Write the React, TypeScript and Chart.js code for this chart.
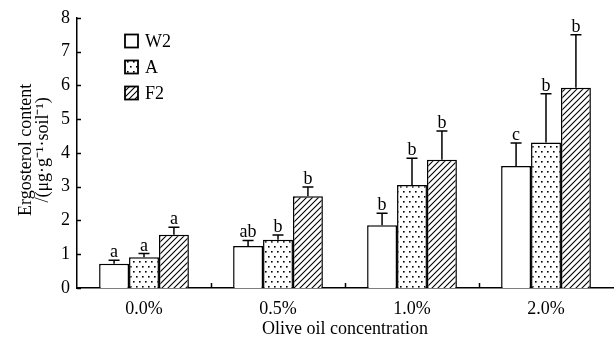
import React, { useEffect, useRef } from "react";
import { Chart, registerables } from "chart.js";

Chart.register(...registerables);

const categories = ["0.0%", "0.5%", "1.0%", "2.0%"];
const seriesNames = ["W2", "A", "F2"];
const W2 = [0.72, 1.24, 1.86, 3.61];
const W2err = [0.1, 0.17, 0.35, 0.68];
const A = [0.91, 1.43, 3.05, 4.31];
const Aerr = [0.11, 0.14, 0.79, 1.44];
const F2 = [1.58, 2.72, 3.8, 5.93];
const F2err = [0.22, 0.27, 0.85, 1.57];
const W2letters = ["a", "ab", "b", "c"];
const Aletters = ["a", "b", "b", "b"];
const F2letters = ["a", "b", "b", "b"];
const yTitle = ["Ergosterol content", "/(\u03bcg\u00b7g\u207b\u00b9\u00b7soil\u207b\u00b9)"];
const xTitle = "Olive oil concentration";

const FONT = "'Liberation Serif', 'Times New Roman', serif";

function dotPattern(ctx: CanvasRenderingContext2D) {
  const c = document.createElement("canvas");
  c.width = 6;
  c.height = 10;
  const g = c.getContext("2d")!;
  g.fillStyle = "#fff";
  g.fillRect(0, 0, 6, 10);
  g.fillStyle = "#000";
  g.fillRect(1, 1, 1.6, 1.6);
  g.fillRect(4, 6, 1.6, 1.6);
  return ctx.createPattern(c, "repeat")!;
}

function hatchPattern(ctx: CanvasRenderingContext2D) {
  const s = 6;
  const c = document.createElement("canvas");
  c.width = s;
  c.height = s;
  const g = c.getContext("2d")!;
  g.fillStyle = "#fff";
  g.fillRect(0, 0, s, s);
  g.strokeStyle = "#000";
  g.lineWidth = 1.1;
  g.beginPath();
  g.moveTo(-1, s + 1);
  g.lineTo(s + 1, -1);
  g.moveTo(-1, 1);
  g.lineTo(1, -1);
  g.moveTo(s - 1, s + 1);
  g.lineTo(s + 1, s - 1);
  g.stroke();
  return ctx.createPattern(c, "repeat")!;
}

export default function App() {
  const ref = useRef<HTMLCanvasElement>(null);
  useEffect(() => {
    const canvas = ref.current!;
    const ctx = canvas.getContext("2d")!;
    const fills: (string | CanvasPattern)[] = ["#fff", dotPattern(ctx), hatchPattern(ctx)];
    const errs = [W2err, Aerr, F2err];
    const letters = [W2letters, Aletters, F2letters];

    const extras = {
      id: "extras",
      afterDatasetsDraw(chart: any) {
        const c = chart.ctx as CanvasRenderingContext2D;
        const area = chart.chartArea;
        const ys = chart.scales.y;
        c.save();
        c.strokeStyle = "#000";
        c.fillStyle = "#000";
        c.lineWidth = 1.5;
        // inner ticks on y
        for (let v = 0; v <= 8; v++) {
          const y = Math.round(ys.getPixelForValue(v)) + 0.5;
          c.beginPath();
          c.moveTo(area.left, y);
          c.lineTo(area.left + 4, y);
          c.stroke();
        }
        // inner ticks on x at category boundaries
        const catW = (area.right - area.left) / categories.length;
        for (let i = 1; i < categories.length; i++) {
          const x = Math.round(area.left + catW * i) + 0.5;
          c.beginPath();
          c.moveTo(x, area.bottom);
          c.lineTo(x, area.bottom - 5);
          c.stroke();
        }
        // error bars and letters
        c.font = `18px ${FONT}`;
        c.textAlign = "center";
        c.textBaseline = "alphabetic";
        chart.data.datasets.forEach((ds: any, di: number) => {
          const meta = chart.getDatasetMeta(di);
          meta.data.forEach((bar: any, i: number) => {
            const x = bar.x;
            const top = ys.getPixelForValue(ds.data[i]);
            const et = ys.getPixelForValue(ds.data[i] + errs[di][i]);
            c.lineWidth = 1.5;
            c.beginPath();
            c.moveTo(x, top);
            c.lineTo(x, et);
            c.moveTo(x - 5.5, et);
            c.lineTo(x + 5.5, et);
            c.stroke();
            c.fillText(letters[di][i], x, et - 3);
          });
        });
        // axis titles
        c.font = `18px ${FONT}`;
        c.textBaseline = "middle";
        c.textAlign = "center";
        const cy = (area.top + area.bottom) / 2 - 3;
        c.save();
        c.translate(26, cy);
        c.rotate(-Math.PI / 2);
        c.fillText(yTitle[0], 0, 0);
        c.restore();
        c.save();
        c.translate(43, cy);
        c.rotate(-Math.PI / 2);
        c.fillText(yTitle[1], 0, 0);
        c.restore();
        c.fillText(xTitle, (area.left + area.right) / 2, 329);
        // legend
        c.font = `18px ${FONT}`;
        c.textAlign = "left";
        const lx = 125;
        const ly = [41, 67, 93];
        seriesNames.forEach((n, i) => {
          const y0 = ly[i] - 6.5;
          c.fillStyle = fills[i] as any;
          c.fillRect(lx, y0, 13, 13);
          c.lineWidth = 1.8;
          c.strokeStyle = "#000";
          c.strokeRect(lx, y0, 13, 13);
          c.fillStyle = "#000";
          c.fillText(n, lx + 20, ly[i] + 1);
        });
        c.restore();
      },
    };

    const chart = new Chart(ctx, {
      type: "bar",
      data: {
        labels: categories,
        datasets: [W2, A, F2].map((d, i) => ({
          label: seriesNames[i],
          data: d,
          backgroundColor: fills[i] as any,
          borderColor: "#000",
          borderWidth: 1.5,
          borderSkipped: "bottom",
          categoryPercentage: 0.67,
          barPercentage: 1.0,
        })),
      },
      options: {
        responsive: false,
        animation: false,
        layout: { padding: { top: 15, right: 1, left: 0, bottom: 0 } },
        plugins: { legend: { display: false }, tooltip: { enabled: false } },
        scales: {
          x: {
            grid: { display: false, drawTicks: false },
            border: { display: true, color: "#000", width: 1.5 },
            ticks: { color: "#000", font: { family: FONT, size: 18 }, padding: 10 },
            afterFit: (s: any) => {
              s.height = 55;
            },
          },
          y: {
            min: 0,
            max: 8,
            grid: { display: false, drawTicks: false },
            border: { display: true, color: "#000", width: 1.5 },
            ticks: { stepSize: 1, color: "#000", font: { family: FONT, size: 18 }, padding: 7 },
            afterFit: (s: any) => {
              s.width = 77;
            },
          },
        },
      },
      plugins: [extras],
    });
    return () => chart.destroy();
  }, []);
  return (
    <div style={{ position: "fixed", left: 0, top: 0, width: 614, height: 343, background: "#fff" }}>
      <canvas ref={ref} width={614} height={343} />
    </div>
  );
}
